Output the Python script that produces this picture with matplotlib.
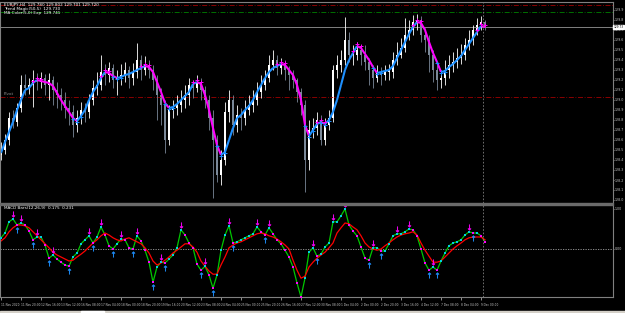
import numpy as np
import matplotlib.pyplot as plt
from matplotlib.patches import Rectangle

# candles (EURJPY H4)
first_open = 128.45
close = [128.50, 128.60, 128.82, 128.78, 128.92, 129.15, 129.12, 129.15, 129.20, 129.18,
         129.22, 129.15, 129.20, 129.10, 129.05, 129.00, 128.92, 128.88, 128.75, 128.82,
         128.90, 128.88, 129.00, 129.12, 129.15, 129.28, 129.25, 129.32, 129.20, 129.22,
         129.25, 129.30, 129.22, 129.28, 129.40, 129.30, 129.35, 129.30, 129.20, 129.05,
         128.95, 128.60, 128.90, 128.92, 128.95, 129.00, 129.05, 129.15, 129.12, 129.18,
         129.10, 129.00, 128.82, 128.60, 128.25, 128.40, 128.88, 129.00, 128.75, 128.85,
         128.82, 128.90, 128.95, 129.00, 129.08, 129.15, 129.22, 129.35, 129.40, 129.32,
         129.35, 129.30, 129.25, 129.20, 129.08, 128.95, 128.40, 128.70, 128.72, 128.80,
         128.60, 128.75, 128.82, 129.30, 129.35, 129.40, 129.60, 129.45, 129.45, 129.50,
         129.45, 129.38, 129.30, 129.22, 129.28, 129.25, 129.28, 129.28, 129.40, 129.45,
         129.52, 129.65, 129.70, 129.78, 129.80, 129.65, 129.60, 129.45, 129.30, 129.20,
         129.22, 129.30, 129.35, 129.38, 129.42, 129.45, 129.55, 129.60, 129.70, 129.75,
         129.78, 129.72]
high = [128.58, 128.66, 128.88, 128.90, 128.97, 129.25, 129.26, 129.22, 129.30, 129.27,
        129.28, 129.26, 129.27, 129.24, 129.18, 129.12, 129.08, 129.00, 128.95, 128.90,
        128.98, 128.97, 129.06, 129.20, 129.28, 129.45, 129.36, 129.38, 129.36, 129.30,
        129.36, 129.38, 129.34, 129.37, 129.57, 129.45, 129.44, 129.40, 129.35, 129.25,
        129.12, 129.00, 128.95, 129.00, 129.05, 129.10, 129.15, 129.22, 129.20, 129.25,
        129.22, 129.14, 129.05, 128.90, 128.65, 128.50, 128.98, 129.10, 129.05, 128.95,
        128.92, 129.00, 129.05, 129.10, 129.18, 129.25, 129.30, 129.45, 129.50, 129.45,
        129.42, 129.40, 129.34, 129.30, 129.22, 129.12, 129.00, 128.80, 128.82, 128.88,
        128.85, 128.82, 128.90, 129.35, 129.45, 129.50, 129.83, 129.68, 129.55, 129.58,
        129.55, 129.55, 129.42, 129.35, 129.35, 129.33, 129.35, 129.36, 129.48, 129.58,
        129.62, 129.82, 129.80, 129.85, 129.86, 129.84, 129.72, 129.65, 129.50, 129.35,
        129.30, 129.40, 129.45, 129.48, 129.52, 129.56, 129.62, 129.70, 129.75, 129.82,
        129.84, 129.80]
low = [128.40, 128.46, 128.55, 128.72, 128.74, 128.88, 129.05, 129.06, 128.93, 129.10,
       129.12, 129.05, 129.00, 128.95, 128.92, 128.90, 128.82, 128.75, 128.63, 128.68,
       128.76, 128.78, 128.82, 128.95, 129.05, 129.10, 129.15, 129.18, 129.12, 129.05,
       129.15, 129.18, 129.12, 129.15, 129.22, 129.20, 129.25, 129.22, 129.10, 128.80,
       128.75, 128.47, 128.55, 128.82, 128.85, 128.88, 128.92, 128.95, 129.02, 129.08,
       129.00, 128.92, 128.70, 128.02, 128.18, 128.15, 128.35, 128.78, 128.65, 128.68,
       128.70, 128.75, 128.85, 128.88, 128.95, 129.02, 129.10, 129.18, 129.30, 129.25,
       129.26, 129.20, 129.10, 129.12, 128.98, 128.85, 128.08, 128.30, 128.62, 128.65,
       128.55, 128.55, 128.70, 128.78, 129.22, 129.28, 129.35, 129.38, 129.35, 129.40,
       129.35, 129.30, 129.15, 129.12, 129.18, 129.15, 129.20, 129.20, 129.22, 129.35,
       129.42, 129.48, 129.60, 129.65, 129.70, 129.58, 129.48, 129.28, 129.18, 129.10,
       129.12, 129.15, 129.22, 129.28, 129.32, 129.36, 129.40, 129.50, 129.55, 129.65,
       129.70, 129.70]

# trend line on price
ma = [128.47, 128.58, 128.68, 128.78, 128.90, 129.00, 129.10, 129.12, 129.17, 129.20,
      129.19, 129.18, 129.17, 129.14, 129.07, 129.00, 128.94, 128.88, 128.82, 128.79,
      128.84, 128.90, 129.00, 129.08, 129.14, 129.22, 129.28, 129.27, 129.24, 129.22,
      129.23, 129.25, 129.26, 129.28, 129.30, 129.32, 129.34, 129.33, 129.28, 129.18,
      129.08, 128.97, 128.92, 128.93, 128.96, 129.00, 129.04, 129.08, 129.16, 129.18,
      129.16, 129.05, 128.90, 128.72, 128.55, 128.45, 128.48, 128.60, 128.72, 128.82,
      128.85, 128.90, 128.94, 129.00, 129.08, 129.15, 129.22, 129.28, 129.32, 129.34,
      129.36, 129.35, 129.30, 129.25, 129.15, 129.00, 128.75, 128.64, 128.70, 128.76,
      128.78, 128.76, 128.80, 128.88, 129.00, 129.15, 129.30, 129.40, 129.47, 129.54,
      129.52, 129.46, 129.40, 129.33, 129.27, 129.28, 129.29, 129.30, 129.34, 129.42,
      129.50, 129.58, 129.66, 129.73, 129.78, 129.77, 129.70, 129.58, 129.47, 129.38,
      129.28, 129.29, 129.33, 129.36, 129.40, 129.44, 129.50, 129.56, 129.62, 129.68,
      129.74, 129.73]

# oscillator window
osc = [0.28, 0.40, 0.68, 0.75, 0.60, 0.65, 0.60, 0.45, 0.23, 0.30,
       0.30, 0.10, -0.23, -0.15, -0.25, -0.33, -0.40, -0.43, -0.20, -0.10,
       0.13, 0.23, 0.33, 0.15, 0.30, 0.55, 0.35, 0.08, 0.00, 0.13,
       0.25, 0.23, 0.03, 0.00, 0.33, 0.20, -0.03, -0.33, -0.83, -0.45,
       -0.33, -0.35, -0.25, -0.15, 0.03, 0.48, 0.35, 0.15, 0.03, -0.38,
       -0.53, -0.43, -0.65, -0.98, -0.65, -0.03, 0.35, 0.58, 0.15, 0.18,
       0.23, 0.28, 0.33, 0.38, 0.55, 0.43, 0.35, 0.53, 0.38, 0.23,
       0.13, -0.03, -0.20, -0.45, -0.85, -1.20, -0.73, -0.08, 0.03, -0.18,
       -0.13, 0.05, 0.15, 0.68, 0.68, 0.83, 1.00, 0.60, 0.45, 0.33,
       0.05, -0.23, -0.28, 0.03, 0.03, -0.05, -0.05, 0.13, 0.33, 0.38,
       0.38, 0.43, 0.50, 0.48, 0.33, 0.00, -0.35, -0.53, -0.45, -0.53,
       -0.30, -0.10, 0.08, 0.15, 0.18, 0.23, 0.35, 0.43, 0.40, 0.40,
       0.33, 0.18]
signal = [0.20, 0.28, 0.43, 0.53, 0.60, 0.60, 0.58, 0.53, 0.43, 0.33,
          0.23, 0.13, 0.03, -0.08, -0.15, -0.20, -0.25, -0.30, -0.28, -0.20,
          -0.13, -0.05, 0.05, 0.15, 0.23, 0.33, 0.40, 0.35, 0.28, 0.23,
          0.20, 0.25, 0.28, 0.23, 0.18, 0.13, 0.03, -0.10, -0.30, -0.40,
          -0.35, -0.28, -0.20, -0.10, -0.03, 0.05, 0.13, 0.13, 0.05, -0.08,
          -0.30, -0.43, -0.55, -0.63, -0.63, -0.40, -0.20, 0.03, 0.10, 0.15,
          0.18, 0.23, 0.28, 0.33, 0.38, 0.40, 0.38, 0.33, 0.30, 0.25,
          0.18, 0.10, 0.00, -0.28, -0.53, -0.73, -0.68, -0.45, -0.33, -0.23,
          -0.15, -0.08, 0.03, 0.15, 0.40, 0.53, 0.65, 0.63, 0.55, 0.48,
          0.33, 0.15, 0.05, 0.00, -0.03, 0.00, 0.08, 0.15, 0.23, 0.30,
          0.35, 0.38, 0.40, 0.43, 0.35, 0.15, -0.03, -0.18, -0.33, -0.33,
          -0.30, -0.20, -0.10, 0.00, 0.08, 0.15, 0.23, 0.28, 0.30, 0.30,
          0.30, 0.23]

date_labels = ["11 Nov 2020", "11 Nov 20:00", "12 Nov 16:00", "13 Nov 12:00", "16 Nov 08:00",
               "17 Nov 04:00", "18 Nov 00:00", "18 Nov 20:00", "19 Nov 16:00", "20 Nov 12:00",
               "23 Nov 08:00", "24 Nov 04:00", "25 Nov 00:00", "25 Nov 20:00", "26 Nov 16:00",
               "27 Nov 12:00", "30 Nov 08:00", "1 Dec 04:00", "2 Dec 00:00", "2 Dec 20:00",
               "3 Dec 16:00", "4 Dec 12:00", "7 Dec 08:00", "8 Dec 04:00", "9 Dec 00:00"]
price_ticks = [128.0, 128.1, 128.2, 128.3, 128.4, 128.5, 128.6, 128.7, 128.8, 128.9,
               129.0, 129.1, 129.2, 129.3, 129.4, 129.5, 129.6, 129.7, 129.8, 129.9]
bid = 129.73
level_red = [129.95, 129.03]
level_green = 129.88

plt.rcParams['font.family'] = ['DejaVu Sans']
BG = "black"
GRID = "#808080"
TXT = "#c8c8c8"

n = len(close)
x = np.arange(n)
close = np.array(close)
opens = np.r_[first_open, close[:-1]]

fig = plt.figure(figsize=(6.25, 3.13), dpi=100, facecolor=BG)
H = 313.0
ax = fig.add_axes([0, 1 - 203 / H, 613 / 625, 201 / H], facecolor=BG)
ax2 = fig.add_axes([0, 1 - 297 / H, 613 / 625, 92 / H], facecolor=BG)
fig.patches.append(Rectangle((0, 1 - 205 / H), 613 / 625, 2 / H, transform=fig.transFigure,
                             color="#6a6a6a", zorder=5))
fig.patches.append(Rectangle((0, 0), 1, 2 / H, transform=fig.transFigure, color="#d4d0c8"))
fig.patches.append(Rectangle((81 / 625, 0), 23 / 625, 2 / H, transform=fig.transFigure,
                             color="white"))

#Main chart
for lv in level_red:
    ax.axhline(lv, color="#a00000", lw=0.6, ls=(0, (6, 2, 1, 2)))
ax.axhline(level_green, color="#008000", lw=0.6, ls=(0, (6, 2, 1, 2)))
ax.axhline(bid, color=GRID, lw=0.7)

for i in range(n):
    o, c = opens[i], close[i]
    col = "white" if c >= o else "#7a8898"
    ax.vlines(x[i], low[i], high[i], color=col, lw=0.6)
    ax.bar(x[i], max(abs(c - o), 0.008), bottom=min(o, c), width=0.6, color=col, lw=0)

for i in range(1, n):
    col = "#1e90ff" if ma[i] >= ma[i - 1] else "#ff00ff"
    ax.plot([x[i - 1], x[i]], [ma[i - 1], ma[i]], color=col, lw=1.5, solid_capstyle="butt")

# signal crosses at turns of the trend line
for i in range(1, n - 1):
    if ma[i] >= ma[i - 1] and ma[i + 1] < ma[i]:
        ax.plot(x[i - 1:i + 2], np.array(ma[i - 1:i + 2]) + 0.02, "+", color="#ff00ff", ms=3, mew=0.7)
    if ma[i] <= ma[i - 1] and ma[i + 1] > ma[i]:
        ax.plot(x[i - 1:i + 2], np.array(ma[i - 1:i + 2]) - 0.01, "+", color="#1e90ff", ms=3, mew=0.7)

ax.axvline(120.5, color=GRID, lw=0.6, ls=(0, (2, 2)))

ax.set_xlim(-0.25, 153)
ax.set_ylim(127.97, 129.98)
ax.set_yticks(price_ticks)
ax.set_yticklabels([f"{v:.1f}" for v in price_ticks])
ax.yaxis.tick_right()
ax.tick_params(axis="y", colors=TXT, labelsize=2.3, length=1, width=0.5, pad=0.5)
ax.tick_params(axis="x", bottom=False, labelbottom=False)
for s in ["left", "top", "right"]:
    ax.spines[s].set_color(GRID)
    ax.spines[s].set_linewidth(0.8)
ax.spines["bottom"].set_visible(False)

ax.text(1.001, bid, f"{bid:.2f}", transform=ax.get_yaxis_transform(), fontsize=2.1,
        color="black", va="center", ha="left",
        bbox=dict(boxstyle="square,pad=0.1", fc="white", ec="white"))
ax.text(0.006, 0.995, "EURJPY,H4  129.780 129.802 129.701 129.720", transform=ax.transAxes,
        fontsize=3, color="white", va="top")
ax.text(0.006, 0.975, "Trend Magic(50,5)  129.730", transform=ax.transAxes,
        fontsize=3, color="white", va="top")
ax.text(0.006, 0.955, "MA Color(5,0) Exp  129.741", transform=ax.transAxes,
        fontsize=3, color="white", va="top")
ax.text(0.006, 129.04, "Pivot", transform=ax.get_yaxis_transform(), fontsize=3,
        color="#909090", va="bottom")

#Oscillator
ax2.axhline(0, color="#a0a0a0", lw=0.6, ls=(0, (1.5, 1.5)))
ax2.plot(x, osc, color="#00c800", lw=0.9)
ax2.plot(x, signal, color="#ff0000", lw=0.9)
osc_a = np.array(osc)
rising = np.r_[True, osc_a[1:] >= osc_a[:-1]]
ax2.scatter(x[rising], osc_a[rising], s=2.5, marker="s", color="#00d0e0", lw=0, zorder=3)
ax2.scatter(x[~rising], osc_a[~rising], s=2.5, marker="s", color="#ff00ff", lw=0, zorder=3)
for i in range(1, n - 1):
    if osc[i] > osc[i - 1] and osc[i] >= osc[i + 1]:
        ax2.plot(x[i], osc[i] + 0.13, marker=r"$\downarrow$", color="#ff00ff", ms=4, mew=0.3)
    if osc[i] < osc[i - 1] and osc[i] <= osc[i + 1]:
        ax2.plot(x[i], osc[i] - 0.13, marker=r"$\uparrow$", color="#1e90ff", ms=4, mew=0.3)

ax2.axvline(120.5, color=GRID, lw=0.6, ls=(0, (2, 2)))
ax2.set_xlim(-0.25, 153)
ax2.set_ylim(-1.20, 1.10)
ax2.set_yticks([1.0, 0.0])
ax2.set_yticklabels(["1.00", "0.00"])
ax2.yaxis.tick_right()
ax2.tick_params(axis="y", colors=TXT, labelsize=2.3, length=1, width=0.5, pad=0.5)
ax2.set_xticks(x[::5])
ax2.set_xticklabels(date_labels, ha="left")
ax2.tick_params(axis="x", colors=TXT, labelsize=2.1, length=2, width=0.5, pad=2)
for s in ["left", "right", "bottom"]:
    ax2.spines[s].set_color(GRID)
    ax2.spines[s].set_linewidth(0.8)
ax2.spines["top"].set_visible(False)
ax2.text(0.006, 0.985, "MACD Bars(12,26,9)  0.175  0.231", transform=ax2.transAxes,
         fontsize=3, color="white", va="top")

fig.savefig("out.png", dpi=100, facecolor=BG)
